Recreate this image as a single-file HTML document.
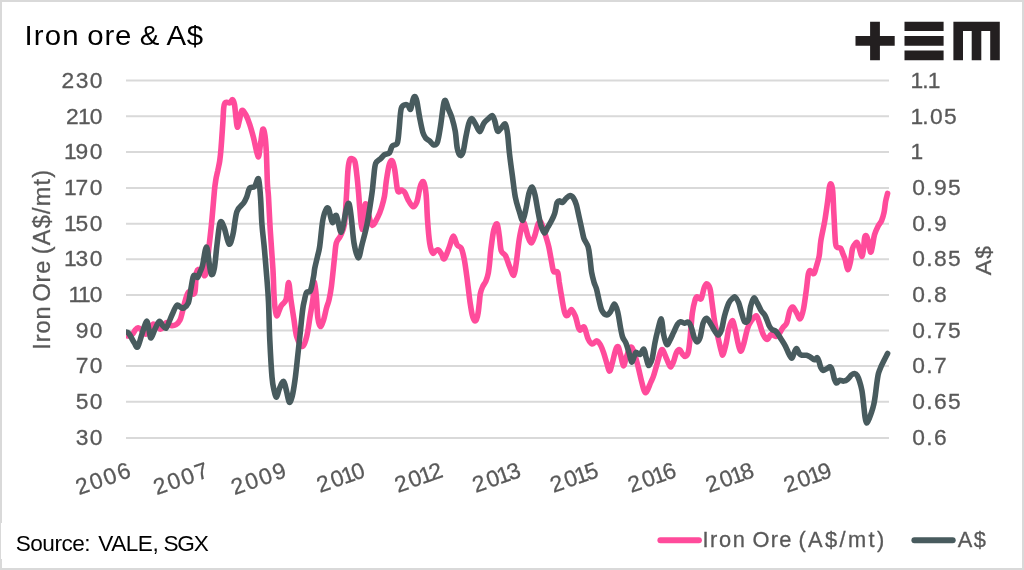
<!DOCTYPE html>
<html><head><meta charset="utf-8"><title>Iron ore &amp; A$</title>
<style>
html,body{margin:0;padding:0;background:#fff}
svg{display:block}
text{font-family:"Liberation Sans",sans-serif}
.ax{font-size:22.8px;fill:#595959;letter-spacing:1.4px;stroke:#595959;stroke-width:0.3px}
.lg2{font-size:21.8px;fill:#595959;stroke:#595959;stroke-width:0.3px}
.lg{font-size:23.5px;fill:#595959;letter-spacing:0.9px;stroke:#595959;stroke-width:0.3px}
</style></head><body>
<svg width="1024" height="570" viewBox="0 0 1024 570">
<rect x="0" y="0" width="1024" height="570" fill="#d9d9d9"/>
<rect x="2" y="2" width="1020" height="566" fill="#ffffff"/>
<rect x="1" y="523" width="300" height="36" fill="#ffffff"/>
<text transform="scale(1.07,1)" y="45.3" font-size="27.5" fill="#000"><tspan x="22.80" letter-spacing="1.1">Iron</tspan> <tspan x="81.50" letter-spacing="0.8">ore</tspan> <tspan x="130.56">&amp;</tspan> <tspan x="155.51" letter-spacing="0.7">A$</tspan></text>
<g fill="#231f20"><path d="M870.1 21.7h9.8v14.4h14.8v9.7h-14.8v14.4h-9.8v-14.4h-14.6v-9.7h14.6z"/><path d="M904.5 21.7h39.1v9.4h-39.1zM904.5 36.1h39.1v9.7h-39.1zM904.5 50.6h39.1v9.6h-39.1z"/><path d="M953.4 21.7h46.4v38.5h-9.6v-29.1h-8.9v29.1h-9.6v-29.1h-8.7v29.1h-9.6z"/></g>
<g stroke="#d9d9d9" stroke-width="2"><line x1="126" y1="80.60" x2="889" y2="80.60"/><line x1="126" y1="116.20" x2="889" y2="116.20"/><line x1="126" y1="151.90" x2="889" y2="151.90"/><line x1="126" y1="188.10" x2="889" y2="188.10"/><line x1="126" y1="223.70" x2="889" y2="223.70"/><line x1="126" y1="259.20" x2="889" y2="259.20"/><line x1="126" y1="295.00" x2="889" y2="295.00"/><line x1="126" y1="330.60" x2="889" y2="330.60"/><line x1="126" y1="366.00" x2="889" y2="366.00"/><line x1="126" y1="401.70" x2="889" y2="401.70"/><line x1="126" y1="438.05" x2="889" y2="438.05"/></g>
<g class="ax" text-anchor="end"><text x="103.8" y="88.0">230</text><text x="103.8" y="123.7">2<tspan dx="-2.2">1</tspan><tspan dx="-2.4">0</tspan></text><text x="103.8" y="159.3">1<tspan dx="-2.4">9</tspan>0</text><text x="103.8" y="195.0">1<tspan dx="-2.4">7</tspan>0</text><text x="103.8" y="230.7">1<tspan dx="-2.4">5</tspan>0</text><text x="103.8" y="266.4">1<tspan dx="-2.4">3</tspan>0</text><text x="103.8" y="302.0">1<tspan dx="-3.0">1</tspan><tspan dx="-2.4">0</tspan></text><text x="103.8" y="337.7">90</text><text x="103.8" y="373.4">70</text><text x="103.8" y="409.0">50</text><text x="103.8" y="444.7">30</text></g>
<g class="ax"><text x="910.6" y="88.0">1<tspan dx="-2.4">.</tspan><tspan dx="-2.2">1</tspan></text><text x="910.6" y="123.7">1<tspan dx="-2.4">.</tspan>05</text><text x="910.6" y="159.3">1</text><text x="912.2" y="195.0">0.95</text><text x="912.2" y="230.7">0.9</text><text x="912.2" y="266.4">0.85</text><text x="912.2" y="302.0">0.8</text><text x="912.2" y="337.7">0.75</text><text x="912.2" y="373.4">0.7</text><text x="912.2" y="409.0">0.65</text><text x="912.2" y="444.7">0.6</text></g>
<g class="ax" text-anchor="end"><text letter-spacing="1.9" transform="translate(133.9,475.9) rotate(-19.5)">2006</text><text letter-spacing="1.9" transform="translate(211.7,475.9) rotate(-19.5)">2007</text><text letter-spacing="1.9" transform="translate(289.5,475.9) rotate(-19.5)">2009</text><text letter-spacing="1.9" transform="translate(368.3,475.9) rotate(-19.5)">20<tspan dx="-3.4">1</tspan><tspan dx="-3.8">0</tspan></text><text letter-spacing="1.9" transform="translate(446.1,475.9) rotate(-19.5)">20<tspan dx="-3.4">1</tspan><tspan dx="-3.8">2</tspan></text><text letter-spacing="1.9" transform="translate(523.9,475.9) rotate(-19.5)">20<tspan dx="-3.4">1</tspan><tspan dx="-3.8">3</tspan></text><text letter-spacing="1.9" transform="translate(601.7,475.9) rotate(-19.5)">20<tspan dx="-3.4">1</tspan><tspan dx="-3.8">5</tspan></text><text letter-spacing="1.9" transform="translate(679.5,475.9) rotate(-19.5)">20<tspan dx="-3.4">1</tspan><tspan dx="-3.8">6</tspan></text><text letter-spacing="1.9" transform="translate(757.3,475.9) rotate(-19.5)">20<tspan dx="-3.4">1</tspan><tspan dx="-3.8">8</tspan></text><text letter-spacing="1.9" transform="translate(835.1,475.9) rotate(-19.5)">20<tspan dx="-3.4">1</tspan><tspan dx="-3.8">9</tspan></text></g>
<text class="lg" transform="translate(49.8,0) rotate(-90)"><tspan x="-349.7">Iron</tspan> <tspan x="-301.6">Ore</tspan> <tspan x="-254.2" letter-spacing="1.2">(A$/mt)</tspan></text>
<text class="ax" text-anchor="middle" transform="translate(991.3,260) rotate(-90)">A$</text>
<clipPath id="plot"><rect x="126" y="60" width="780" height="400"/></clipPath>
<g clip-path="url(#plot)">
<path d="M125.5 335.5C126.2 335.6 128.8 336.1 130.0 335.8C131.2 335.5 132.1 334.6 133.0 333.6C133.9 332.6 134.4 330.8 135.3 329.8C136.2 328.8 137.2 327.8 138.2 327.7C139.1 327.6 140.1 328.6 141.0 329.5C141.9 330.4 142.6 332.2 143.5 333.0C144.4 333.8 145.5 334.7 146.5 334.0C147.5 333.3 148.4 330.6 149.5 329.0C150.6 327.4 151.8 324.6 153.0 324.2C154.2 323.8 155.8 325.4 157.0 326.3C158.2 327.2 159.4 329.3 160.5 329.3C161.6 329.3 162.5 327.6 163.5 326.5C164.5 325.4 165.2 322.7 166.5 322.5C167.8 322.3 169.4 325.1 171.0 325.5C172.6 325.9 174.5 325.5 176.0 324.6C177.5 323.7 178.9 322.2 180.0 320.0C181.1 317.8 181.6 314.9 182.5 311.5C183.4 308.1 184.4 302.9 185.5 299.6C186.6 296.3 187.3 292.9 188.8 291.8C190.3 290.7 193.4 296.3 194.7 293.0C196.0 289.7 195.5 275.8 196.6 272.0C197.7 268.2 199.5 269.6 201.0 270.0C202.5 270.4 204.1 278.7 205.5 274.5C206.9 270.3 208.2 253.2 209.2 245.0C210.2 236.8 210.7 231.7 211.4 225.0C212.1 218.3 212.7 210.8 213.2 205.0C213.7 199.2 214.1 194.2 214.5 190.0C214.9 185.8 215.3 183.2 215.8 180.0C216.3 176.8 217.0 174.2 217.7 171.0C218.3 167.8 219.2 164.5 219.7 161.0C220.2 157.5 220.6 153.8 220.9 150.0C221.2 146.2 221.5 142.7 221.8 138.0C222.1 133.3 222.6 126.6 222.9 121.6C223.2 116.6 223.4 111.1 223.7 108.0C224.0 104.9 224.3 103.9 224.9 103.0C225.5 102.1 226.2 102.5 227.1 102.4C227.9 102.4 229.1 103.2 230.0 102.7C230.9 102.2 231.7 99.4 232.4 99.7C233.2 100.0 233.9 101.5 234.5 104.6C235.1 107.6 235.5 114.2 236.0 118.0C236.5 121.8 236.7 126.8 237.3 127.2C237.9 127.6 238.7 123.2 239.4 120.4C240.2 117.6 240.8 111.5 241.8 110.5C242.9 109.5 244.4 112.2 245.7 114.5C247.0 116.8 248.4 120.4 249.7 124.3C251.0 128.2 252.2 132.6 253.6 138.0C255.0 143.4 257.0 155.7 258.1 156.7C259.2 157.7 259.7 148.6 260.5 144.0C261.3 139.4 262.1 130.5 262.8 129.2C263.6 127.9 264.4 131.9 265.0 136.0C265.6 140.1 266.0 145.6 266.4 153.8C266.8 162.0 267.1 177.8 267.5 185.0C267.9 192.2 268.1 189.6 268.5 197.0C268.9 204.4 269.5 217.4 270.2 229.3C270.9 241.2 272.2 256.8 272.9 268.6C273.6 280.4 273.7 292.1 274.3 300.0C274.9 307.9 275.4 314.8 276.5 315.7C277.6 316.6 279.6 308.4 281.2 305.7C282.8 303.0 284.8 303.5 286.0 299.6C287.2 295.8 287.8 282.6 288.6 282.6C289.4 282.6 290.0 293.5 290.9 299.6C291.8 305.7 292.9 313.1 293.9 319.3C294.9 325.5 295.4 332.5 296.8 337.0C298.2 341.5 300.7 346.7 302.4 346.5C304.1 346.3 305.5 341.2 306.8 336.0C308.1 330.8 309.1 322.0 310.2 315.5C311.3 309.0 312.5 302.5 313.2 297.0C313.9 291.5 314.0 282.0 314.6 282.5C315.2 283.0 316.1 294.1 316.6 300.0C317.1 305.9 317.2 313.3 317.8 317.7C318.4 322.1 319.3 326.2 320.3 326.5C321.3 326.8 322.7 322.7 323.7 319.6C324.7 316.5 325.6 311.3 326.5 308.0C327.4 304.7 328.2 303.6 329.0 300.0C329.8 296.4 330.5 293.2 331.4 286.3C332.3 279.4 333.6 266.0 334.4 258.8C335.2 251.6 335.3 246.8 336.3 243.0C337.3 239.2 339.0 239.2 340.3 236.2C341.6 233.2 343.3 231.0 344.3 225.0C345.3 219.0 345.6 208.8 346.2 200.0C346.8 191.2 347.3 178.5 347.8 172.0C348.3 165.5 348.7 163.0 349.4 160.8C350.1 158.6 351.2 158.5 352.1 158.7C353.0 158.9 354.2 159.1 355.0 162.0C355.8 164.9 356.4 171.4 357.0 176.4C357.6 181.4 358.0 186.5 358.5 192.0C359.0 197.5 359.3 203.4 359.9 209.6C360.5 215.8 361.2 228.9 361.9 229.3C362.6 229.7 363.4 216.2 364.0 212.0C364.6 207.8 365.0 203.2 365.8 203.8C366.6 204.4 367.7 211.9 368.8 215.5C369.9 219.1 370.8 225.1 372.3 225.4C373.8 225.7 376.1 220.4 377.6 217.5C379.1 214.6 380.4 211.3 381.5 207.7C382.6 204.1 383.7 200.6 384.5 196.0C385.3 191.4 385.6 185.6 386.4 180.3C387.2 175.0 388.4 167.2 389.4 164.0C390.4 160.8 391.4 160.0 392.3 160.9C393.2 161.8 393.9 164.8 394.7 169.5C395.5 174.2 396.6 185.3 397.3 189.1C398.0 192.8 398.4 191.8 399.0 192.0C399.6 192.2 400.5 190.2 401.2 190.0C401.9 189.8 402.5 190.5 403.1 191.0C403.8 191.5 404.3 191.5 405.1 193.0C405.9 194.5 406.8 197.5 408.1 199.8C409.4 202.1 411.5 206.4 413.0 206.7C414.5 207.0 415.9 204.2 416.9 201.8C417.9 199.4 418.4 194.8 419.0 192.0C419.6 189.2 420.1 186.4 420.8 184.7C421.5 183.0 422.6 181.0 423.4 181.8C424.2 182.6 425.0 186.5 425.5 189.5C426.0 192.5 426.2 195.0 426.5 200.0C426.8 205.0 427.0 212.3 427.5 219.5C428.0 226.7 428.8 237.4 429.7 243.0C430.6 248.6 431.6 251.6 432.6 252.9C433.6 254.2 434.5 251.5 435.5 251.0C436.5 250.5 437.5 249.4 438.5 249.9C439.5 250.4 440.5 252.5 441.5 254.0C442.5 255.5 443.1 260.0 444.4 258.8C445.7 257.6 447.8 250.8 449.3 247.0C450.8 243.2 451.9 236.5 453.2 236.2C454.5 235.9 455.8 243.0 457.2 245.0C458.6 247.0 460.1 246.0 461.3 248.3C462.5 250.6 463.3 254.6 464.2 259.0C465.1 263.4 465.9 270.1 466.6 274.8C467.3 279.5 467.6 282.7 468.2 287.4C468.8 292.1 469.5 298.7 470.2 303.2C470.9 307.7 471.5 311.7 472.1 314.3C472.7 316.9 473.1 317.9 473.6 319.0C474.1 320.1 474.5 320.9 475.0 320.9C475.5 320.9 476.1 320.4 476.6 319.0C477.1 317.6 477.8 315.2 478.2 312.5C478.6 309.8 478.9 306.1 479.3 303.0C479.7 299.9 479.8 296.4 480.3 293.7C480.8 291.0 481.6 289.1 482.5 287.0C483.4 284.9 484.9 283.4 485.9 281.1C486.9 278.8 487.7 276.2 488.3 273.0C488.9 269.8 489.3 265.8 489.7 262.0C490.1 258.2 490.1 255.3 490.8 250.0C491.5 244.7 492.7 234.3 493.8 230.0C494.9 225.7 496.3 223.0 497.2 224.0C498.1 225.0 498.6 231.6 499.3 236.0C500.0 240.4 500.2 247.4 501.2 250.7C502.2 254.0 504.1 253.0 505.5 255.6C506.9 258.2 508.1 263.1 509.5 266.4C510.9 269.7 512.7 275.9 513.8 275.3C514.9 274.7 515.4 268.6 516.3 262.5C517.2 256.4 518.3 245.1 519.3 238.9C520.3 232.7 521.4 227.8 522.2 225.2C523.0 222.6 523.2 221.2 524.2 223.2C525.2 225.2 526.9 233.7 528.1 237.0C529.3 240.3 530.4 243.2 531.5 242.9C532.6 242.6 533.9 238.1 535.0 235.0C536.1 231.9 537.0 226.3 538.0 224.2C539.0 222.1 539.8 220.7 540.9 222.2C542.0 223.7 543.5 228.9 544.8 233.0C546.1 237.1 547.6 241.9 548.8 246.8C549.9 251.7 550.9 258.4 551.7 262.5C552.5 266.6 552.7 269.8 553.7 271.4C554.7 273.0 556.7 270.5 557.6 272.3C558.5 274.1 558.6 278.2 559.2 282.2C559.9 286.1 560.6 291.0 561.5 296.0C562.4 301.0 563.6 309.2 564.6 312.4C565.6 315.6 566.4 315.9 567.5 315.4C568.6 314.9 570.1 309.4 571.4 309.5C572.7 309.6 574.2 313.4 575.4 316.3C576.5 319.2 577.5 324.9 578.3 327.2C579.1 329.5 579.3 330.1 580.3 330.1C581.3 330.1 582.9 325.7 584.2 327.2C585.5 328.7 586.8 336.1 588.1 338.9C589.4 341.7 590.6 343.6 592.1 343.9C593.6 344.2 595.6 340.7 597.0 340.9C598.4 341.1 599.4 343.0 600.5 345.0C601.6 347.0 602.5 349.4 603.6 352.7C604.7 356.0 606.2 361.5 607.2 364.6C608.2 367.7 608.7 371.2 609.5 371.2C610.3 371.2 610.9 368.1 611.9 364.6C612.9 361.1 614.5 353.3 615.5 350.3C616.5 347.3 617.3 346.0 618.1 346.7C618.9 347.4 619.6 351.3 620.5 354.5C621.4 357.7 622.5 365.0 623.4 365.7C624.3 366.4 625.0 361.1 625.9 358.5C626.8 355.9 628.0 351.8 629.0 350.0C630.0 348.2 630.8 346.7 631.8 347.5C632.8 348.3 633.7 351.8 634.8 355.0C635.9 358.2 637.1 362.6 638.2 367.0C639.3 371.4 640.6 377.5 641.6 381.5C642.6 385.5 643.5 389.0 644.2 390.9C644.9 392.8 645.3 392.8 645.9 392.6C646.5 392.4 646.9 391.4 647.7 389.7C648.5 388.0 649.7 384.8 650.7 382.5C651.7 380.2 652.4 379.4 653.5 376.0C654.6 372.6 656.4 366.2 657.5 362.3C658.6 358.4 659.5 354.8 660.3 352.7C661.1 350.6 661.5 349.1 662.4 349.7C663.3 350.3 664.6 354.0 665.6 356.3C666.6 358.6 667.7 361.6 668.6 363.4C669.5 365.1 670.1 367.1 670.9 366.8C671.7 366.5 672.7 363.9 673.6 361.5C674.5 359.1 675.4 354.7 676.4 352.7C677.4 350.7 678.6 349.5 679.6 349.7C680.6 349.9 681.3 352.7 682.3 353.8C683.2 354.9 684.3 356.7 685.3 356.4C686.3 356.1 687.5 355.2 688.3 352.0C689.1 348.8 689.5 343.4 690.2 337.0C690.9 330.6 691.5 319.6 692.3 313.4C693.1 307.2 694.4 302.4 695.2 299.6C696.0 296.8 696.2 296.9 697.2 296.7C698.2 296.5 700.0 300.1 701.1 298.7C702.2 297.3 703.1 290.9 704.0 288.4C704.9 285.9 705.6 283.7 706.6 283.7C707.6 283.7 709.0 285.4 709.9 288.4C710.8 291.4 711.1 295.8 711.9 301.6C712.7 307.4 713.8 316.6 714.9 323.2C716.0 329.8 717.7 336.1 718.8 340.9C719.9 345.7 720.8 349.7 721.5 352.0C722.2 354.3 722.2 356.0 723.0 354.5C723.8 353.0 725.2 347.3 726.2 343.0C727.2 338.7 727.8 332.4 728.8 328.6C729.8 324.9 731.3 320.5 732.3 320.5C733.3 320.5 734.0 325.1 735.0 328.8C736.0 332.6 737.1 339.3 738.0 343.0C738.9 346.7 739.7 351.0 740.6 351.2C741.5 351.4 742.5 348.1 743.6 344.3C744.8 340.5 746.2 332.5 747.5 328.6C748.8 324.7 749.9 322.8 751.4 320.7C752.9 318.6 755.0 315.5 756.3 315.8C757.6 316.1 758.1 319.6 759.3 322.7C760.4 325.8 761.9 331.7 763.2 334.5C764.5 337.3 765.9 339.4 767.2 339.4C768.5 339.4 769.6 335.0 771.1 334.5C772.6 334.0 774.5 336.7 776.0 336.4C777.5 336.1 778.8 334.0 779.9 332.5C781.0 331.0 781.8 329.2 782.9 327.6C784.0 326.0 785.7 325.5 786.8 322.7C787.9 319.9 788.7 313.5 789.7 310.9C790.7 308.3 791.6 306.7 792.7 307.0C793.9 307.3 795.4 310.9 796.6 312.9C797.9 314.9 799.1 319.4 800.2 318.8C801.4 318.2 802.5 313.9 803.5 309.0C804.5 304.1 805.6 295.2 806.4 289.3C807.2 283.4 807.7 276.7 808.4 273.6C809.1 270.5 809.5 270.6 810.4 270.6C811.3 270.6 812.9 274.4 813.9 273.6C814.9 272.8 815.6 268.9 816.5 266.0C817.4 263.1 818.5 260.1 819.2 255.9C819.9 251.8 819.9 247.0 820.8 241.1C821.7 235.2 823.7 227.2 824.8 220.6C825.9 214.0 826.8 207.3 827.6 201.6C828.4 195.9 828.9 189.4 829.5 186.5C830.1 183.6 830.6 183.4 831.1 184.2C831.6 184.9 832.2 186.0 832.7 191.0C833.2 196.0 833.4 205.6 833.9 214.2C834.4 222.8 834.9 237.2 835.5 242.7C836.1 248.2 836.5 246.5 837.4 247.4C838.2 248.3 839.7 247.1 840.6 248.2C841.5 249.2 842.1 251.7 842.9 253.7C843.7 255.7 844.5 257.4 845.3 260.0C846.1 262.6 846.9 269.3 847.7 269.6C848.6 269.9 849.6 265.4 850.4 262.0C851.2 258.6 851.7 252.0 852.4 249.0C853.1 246.0 854.0 245.2 854.8 244.2C855.6 243.1 856.4 241.9 857.2 242.7C858.0 243.5 858.7 246.7 859.5 249.0C860.3 251.3 861.1 256.5 861.8 256.5C862.5 256.5 863.0 252.1 863.5 249.0C864.0 245.9 864.1 240.1 864.6 237.9C865.1 235.7 865.6 235.1 866.2 235.6C866.8 236.1 867.5 238.3 868.2 241.1C868.9 243.8 869.9 251.3 870.6 252.1C871.3 252.9 871.9 248.7 872.5 245.8C873.1 242.9 873.6 238.0 874.5 234.8C875.4 231.7 876.5 229.3 877.7 226.9C878.9 224.5 880.6 223.0 881.6 220.6C882.6 218.2 883.3 215.9 884.0 212.7C884.7 209.5 885.0 204.8 885.6 201.6C886.2 198.4 887.3 194.8 887.6 193.4" fill="none" stroke="#ff4b9b" stroke-width="5.6" stroke-linecap="round" stroke-linejoin="round"/>
<path d="M125.0 331.8C125.5 332.0 127.3 331.9 128.3 332.8C129.3 333.7 130.0 335.3 131.0 337.0C132.0 338.7 133.4 341.6 134.5 343.2C135.6 344.8 136.4 348.4 137.7 346.9C138.9 345.4 140.5 338.3 142.0 334.0C143.5 329.7 145.3 322.0 146.5 321.3C147.7 320.6 148.2 327.2 149.0 330.0C149.8 332.8 150.0 338.2 151.0 338.0C152.0 337.8 153.6 331.8 155.0 329.0C156.4 326.2 158.0 321.8 159.3 321.3C160.6 320.8 161.8 324.9 163.0 326.0C164.2 327.1 165.2 328.8 166.2 328.1C167.2 327.4 168.0 324.4 169.0 322.0C170.0 319.6 171.1 316.8 172.4 314.0C173.7 311.2 175.4 306.5 176.8 305.4C178.2 304.3 179.7 306.9 180.8 307.3C182.0 307.7 182.4 308.7 183.7 308.0C184.9 307.3 187.1 306.0 188.3 303.0C189.5 300.0 189.9 294.3 190.7 290.0C191.5 285.7 192.4 279.4 193.1 277.0C193.8 274.6 194.2 275.4 195.0 275.5C195.8 275.6 196.8 278.0 197.6 277.4C198.4 276.8 199.2 274.0 200.0 272.0C200.8 270.0 201.4 269.8 202.5 265.6C203.6 261.4 205.2 247.2 206.4 247.0C207.6 246.8 208.6 260.1 209.4 264.7C210.2 269.3 210.6 273.9 211.4 274.5C212.2 275.1 213.3 273.9 214.3 268.6C215.3 263.4 216.2 250.7 217.2 243.0C218.2 235.3 219.0 225.0 220.2 222.4C221.3 219.8 222.6 223.7 224.1 227.3C225.6 230.9 227.5 242.8 229.0 244.0C230.5 245.2 231.7 239.6 233.0 234.2C234.3 228.8 235.1 216.8 236.9 211.6C238.7 206.4 242.2 205.2 243.8 202.8C245.4 200.4 245.7 199.5 246.7 197.0C247.7 194.5 248.4 189.7 249.7 188.0C251.0 186.3 253.1 188.1 254.6 186.6C256.1 185.1 257.5 177.1 258.5 178.8C259.5 180.5 259.9 189.3 260.5 197.0C261.1 204.7 261.3 216.2 262.0 225.0C262.7 233.8 263.7 240.8 264.5 250.0C265.3 259.2 266.3 271.3 267.0 280.0C267.7 288.7 268.0 292.0 268.5 302.0C269.0 312.0 269.2 327.5 269.8 340.0C270.4 352.5 271.3 368.7 272.0 377.0C272.7 385.3 273.2 386.6 274.0 390.0C274.8 393.4 275.6 397.5 276.5 397.2C277.4 396.9 278.3 391.0 279.5 388.4C280.7 385.8 282.4 381.0 283.6 381.4C284.8 381.8 285.6 387.5 286.5 391.0C287.4 394.5 288.4 401.3 289.3 402.2C290.2 403.1 291.2 400.0 292.2 396.3C293.1 392.6 294.1 386.4 295.0 380.0C295.9 373.6 296.7 365.5 297.5 358.0C298.3 350.5 299.1 343.1 300.0 335.0C300.9 326.9 301.9 315.3 302.7 309.5C303.4 303.7 303.9 302.8 304.5 300.0C305.1 297.2 305.5 294.1 306.5 292.5C307.5 290.9 309.3 293.1 310.5 290.5C311.7 287.9 312.8 280.6 313.5 277.0C314.2 273.4 314.1 272.0 314.7 268.6C315.3 265.2 316.6 260.4 317.4 256.8C318.2 253.2 318.7 252.9 319.6 247.0C320.5 241.1 321.6 227.5 322.6 221.4C323.6 215.3 324.5 212.7 325.5 210.6C326.5 208.5 327.4 206.7 328.5 208.7C329.6 210.7 331.1 221.3 332.4 222.4C333.7 223.5 334.8 213.9 336.3 215.5C337.8 217.1 339.7 233.2 341.3 232.2C342.9 231.2 344.9 214.3 346.2 209.6C347.5 204.9 348.2 202.2 349.1 203.8C350.0 205.5 350.7 213.0 351.5 219.5C352.3 226.0 352.9 236.6 354.0 243.0C355.1 249.4 357.0 257.5 358.3 257.8C359.6 258.1 360.5 250.4 361.9 245.0C363.3 239.6 365.3 232.6 366.8 225.4C368.3 218.2 369.8 207.7 370.7 201.8C371.6 195.9 371.9 194.1 372.4 190.0C372.9 185.9 373.2 181.7 373.7 177.3C374.2 172.9 374.5 166.7 375.6 163.6C376.8 160.5 379.1 160.2 380.6 158.7C382.1 157.2 383.0 155.7 384.5 154.7C386.0 153.7 388.1 154.3 389.4 152.8C390.7 151.3 391.0 147.5 392.3 145.9C393.6 144.3 396.2 145.9 397.3 143.0C398.4 140.1 398.6 133.9 399.2 128.2C399.8 122.5 400.2 112.5 401.2 108.6C402.2 104.7 404.0 105.2 405.1 104.7C406.2 104.2 407.2 104.7 408.1 105.5C409.0 106.3 409.8 110.3 410.6 109.3C411.4 108.3 412.3 101.7 413.0 99.6C413.7 97.5 414.2 96.3 414.9 96.6C415.5 96.9 416.1 97.8 416.9 101.4C417.7 105.0 418.8 113.3 419.8 118.4C420.8 123.5 421.8 128.9 422.8 132.2C423.8 135.5 424.6 136.5 425.7 138.0C426.8 139.5 428.4 139.8 429.7 141.0C431.0 142.2 432.3 144.7 433.6 144.9C434.9 145.1 436.4 145.1 437.5 142.0C438.6 138.9 439.5 132.4 440.5 126.3C441.5 120.2 442.6 109.6 443.4 105.3C444.2 101.0 444.6 99.9 445.4 100.5C446.2 101.1 447.2 105.9 448.3 108.8C449.4 111.7 450.9 114.3 452.0 118.0C453.1 121.7 454.3 126.0 455.2 131.0C456.1 136.0 456.4 143.8 457.2 147.9C458.0 152.0 459.1 154.7 460.1 155.3C461.1 156.0 462.1 155.0 463.1 151.8C464.1 148.6 465.0 140.9 466.0 136.1C467.0 131.3 468.0 125.7 469.0 122.8C470.0 119.9 470.8 118.4 471.9 118.7C473.0 119.0 474.5 122.4 475.8 124.6C477.1 126.8 478.5 131.8 479.8 131.6C481.1 131.4 482.3 125.5 483.8 123.3C485.3 121.1 487.3 119.7 488.7 118.4C490.1 117.1 491.3 115.1 492.3 115.5C493.3 115.9 493.9 118.4 494.8 121.0C495.7 123.6 496.4 129.9 497.5 131.0C498.6 132.1 500.3 128.8 501.6 127.6C502.9 126.4 504.3 123.0 505.3 124.1C506.3 125.2 506.9 129.1 507.6 134.1C508.3 139.1 508.7 146.8 509.5 153.8C510.3 160.8 511.4 168.7 512.4 176.0C513.4 183.3 514.2 191.6 515.4 197.5C516.5 203.4 518.1 207.6 519.3 211.4C520.5 215.2 521.6 221.0 522.8 220.3C523.9 219.7 525.2 212.1 526.2 207.5C527.2 202.9 528.1 196.3 529.1 192.9C530.1 189.5 531.1 186.7 532.1 187.0C533.1 187.3 534.0 190.7 535.0 194.8C536.0 198.9 537.0 206.3 538.0 211.4C539.0 216.5 539.8 221.6 540.9 225.2C542.0 228.8 543.2 232.7 544.4 233.0C545.5 233.3 546.6 229.3 547.8 227.2C549.0 225.1 550.6 222.6 551.7 220.3C552.9 218.0 553.8 216.3 554.7 213.4C555.6 210.5 556.2 204.9 557.0 202.8C557.8 200.7 558.7 201.0 559.6 200.9C560.5 200.8 561.4 202.9 562.5 202.4C563.6 201.9 565.1 199.2 566.4 198.1C567.6 197.0 568.8 195.6 570.0 195.6C571.2 195.6 572.5 196.6 573.5 198.1C574.5 199.6 575.3 201.4 576.3 204.6C577.2 207.8 578.2 212.9 579.2 217.3C580.2 221.7 581.4 227.5 582.2 231.1C583.0 234.7 583.1 236.3 584.1 238.9C585.1 241.5 587.1 243.5 588.1 246.8C589.1 250.1 589.4 254.4 590.0 258.6C590.6 262.9 590.9 268.4 591.6 272.3C592.3 276.2 593.2 279.4 594.0 282.2C594.8 285.0 595.7 286.1 596.5 289.0C597.3 291.9 598.0 296.0 598.9 299.6C599.8 303.2 600.6 307.9 601.9 310.5C603.2 313.1 605.3 314.9 606.8 315.0C608.3 315.1 609.5 313.2 610.7 311.4C612.0 309.6 613.1 304.0 614.3 304.0C615.4 304.0 616.6 307.6 617.6 311.4C618.6 315.2 619.6 322.7 620.4 327.0C621.2 331.3 621.7 334.3 622.6 337.0C623.5 339.7 624.9 340.5 625.9 343.0C626.9 345.5 628.0 349.4 628.8 352.0C629.6 354.6 630.0 356.9 630.5 358.6C631.0 360.3 631.4 362.4 632.0 362.0C632.6 361.6 633.5 358.1 634.2 356.5C634.9 354.9 635.0 352.8 636.0 352.4C637.0 352.0 638.8 355.0 640.1 354.4C641.4 353.8 642.8 348.6 643.8 349.0C644.8 349.4 645.3 354.5 646.0 357.0C646.7 359.5 647.4 362.7 647.9 364.0C648.4 365.3 648.6 365.9 649.3 365.0C650.0 364.1 651.3 362.3 652.2 358.6C653.1 354.9 654.0 347.6 654.9 343.0C655.8 338.4 656.5 335.0 657.6 331.0C658.7 327.0 660.4 318.4 661.4 318.9C662.4 319.4 662.6 329.7 663.5 334.0C664.4 338.3 665.7 343.5 666.8 344.5C667.9 345.5 668.8 342.1 670.0 340.0C671.2 337.9 672.5 334.6 673.8 332.0C675.0 329.4 676.4 325.9 677.5 324.2C678.6 322.5 679.4 321.9 680.5 321.7C681.6 321.5 683.1 323.1 684.4 323.2C685.7 323.3 687.1 321.5 688.3 322.2C689.4 322.9 690.3 324.6 691.3 327.2C692.3 329.8 693.2 335.1 694.2 337.5C695.2 339.9 696.0 341.9 697.0 341.9C698.0 341.9 699.1 340.6 700.1 337.5C701.1 334.4 702.0 326.4 703.1 323.2C704.2 320.0 705.3 318.1 706.6 318.3C707.9 318.5 709.5 322.1 710.9 324.2C712.3 326.3 713.6 329.3 714.9 331.1C716.1 332.9 717.3 335.3 718.4 335.0C719.5 334.7 720.7 332.3 721.7 329.1C722.7 325.9 723.3 320.4 724.5 316.0C725.7 311.6 727.4 306.0 728.8 303.0C730.2 300.0 731.7 299.1 732.8 298.1C733.9 297.1 734.3 296.5 735.3 297.2C736.3 297.9 737.5 299.9 738.6 302.5C739.7 305.1 740.6 309.7 741.6 312.9C742.6 316.1 743.5 320.6 744.6 321.7C745.8 322.8 747.5 322.1 748.5 319.7C749.5 317.2 749.6 310.6 750.5 307.0C751.4 303.4 752.7 298.8 753.8 298.1C754.9 297.4 756.0 300.9 757.3 303.0C758.5 305.1 760.0 308.8 761.3 310.9C762.6 313.0 763.9 313.4 765.2 315.8C766.5 318.2 768.0 323.3 769.1 325.6C770.2 327.9 771.0 328.6 772.1 329.6C773.2 330.6 774.6 330.0 776.0 331.5C777.4 333.0 779.1 336.0 780.7 338.5C782.3 341.0 784.1 343.7 785.5 346.3C786.9 348.9 787.9 352.2 789.0 354.2C790.1 356.2 791.0 358.5 791.9 358.2C792.8 357.9 793.5 354.0 794.3 352.4C795.1 350.8 795.8 348.3 796.6 348.5C797.5 348.7 798.5 352.6 799.4 353.7C800.3 354.8 800.8 354.9 802.0 355.2C803.2 355.5 805.2 355.0 806.6 355.3C808.0 355.6 809.2 356.4 810.5 357.2C811.8 357.9 813.3 359.7 814.4 359.8C815.5 359.9 816.5 357.3 817.3 357.7C818.1 358.1 818.6 360.5 819.2 362.1C819.8 363.8 820.1 366.2 820.8 367.6C821.5 369.0 822.2 370.4 823.2 370.5C824.2 370.6 825.9 369.0 827.1 368.4C828.3 367.8 829.4 366.5 830.3 366.9C831.2 367.3 831.7 368.8 832.4 370.8C833.1 372.8 833.6 376.7 834.3 378.7C835.0 380.7 835.7 382.7 836.6 383.0C837.5 383.3 838.6 380.6 839.8 380.3C841.0 380.0 842.4 381.3 843.7 381.1C845.0 380.9 846.4 380.2 847.7 379.2C849.0 378.1 850.5 375.8 851.6 374.8C852.7 373.9 853.6 373.4 854.5 373.5C855.4 373.6 856.4 374.2 857.2 375.5C858.0 376.8 858.7 378.6 859.5 381.1C860.3 383.6 861.2 386.9 861.9 390.6C862.6 394.3 863.0 398.7 863.5 403.2C864.0 407.7 864.6 414.1 865.1 417.4C865.6 420.7 866.0 422.6 866.6 422.9C867.2 423.2 868.2 420.7 869.0 419.0C869.8 417.3 870.6 415.1 871.4 412.7C872.2 410.3 873.1 407.7 873.7 404.8C874.4 401.9 874.8 399.0 875.3 395.3C875.8 391.6 876.4 386.4 876.9 382.7C877.4 379.0 877.8 375.8 878.5 373.2C879.2 370.6 880.0 369.0 880.9 366.9C881.8 364.8 882.9 362.8 884.0 360.5C885.1 358.2 887.0 354.6 887.6 353.4" fill="none" stroke="#485b5e" stroke-width="5.6" stroke-linecap="round" stroke-linejoin="round"/>
</g>
<line x1="660.4" y1="540.2" x2="698.9" y2="540.2" stroke="#ff4b9b" stroke-width="6" stroke-linecap="round"/><text class="lg2" y="546.7"><tspan x="702.4" letter-spacing="1.6">Iron</tspan> <tspan x="752.4" letter-spacing="1.3">Ore</tspan> <tspan x="798.4" letter-spacing="2.4">(A$/mt)</tspan></text><line x1="914.4" y1="540.2" x2="952.7" y2="540.2" stroke="#485b5e" stroke-width="6" stroke-linecap="round"/><text class="lg2" x="957.8" y="546.7" letter-spacing="1.5">A$</text>
<text y="551.4" font-size="22.6" fill="#000"><tspan x="15.7" letter-spacing="-0.5">Source:</tspan> <tspan x="98.2" letter-spacing="-0.45">VALE,</tspan> <tspan x="163.5" letter-spacing="-1.2">SGX</tspan></text>
</svg></body></html>
